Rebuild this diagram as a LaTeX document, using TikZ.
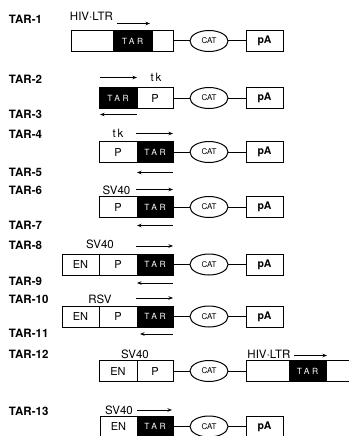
\documentclass[tikz,border=0pt]{standalone}
\usepackage{fontspec}
\setmainfont{TeX Gyre Heros}
\newfontfamily\tarfont[LetterSpace=30]{TeX Gyre Heros}
\usetikzlibrary{positioning, arrows.meta, shapes.geometric}

\begin{document}
\begin{tikzpicture}[
  x=1pt, y=-1pt,
  every node/.style={inner sep=0pt, outer sep=0pt},
  seg/.style={
    rectangle, draw=black, line width=1pt, fill=white,
    minimum width=#1, minimum height=21pt,
    font=\fontsize{11}{13}\selectfont
  },
  seg/.default=37pt,
  tarseg/.style={
    seg=#1, fill=black, text=white,
    font=\tarfont\fontsize{8.5}{10}\selectfont
  },
  tarseg/.default=37pt,
  catnode/.style={
    ellipse, draw=black, line width=1pt,
    minimum width=38pt, minimum height=21pt,
    font=\fontsize{8}{9}\selectfont
  },
  pabox/.style={
    rectangle, draw=black, line width=1pt,
    minimum width=37pt, minimum height=21pt,
    font=\fontsize{10.5}{12}\selectfont\bfseries
  },
  rowlabel/.style={anchor=west, font=\fontsize{11.5}{13}\selectfont\bfseries},
  promlabel/.style={font=\fontsize{11.5}{13}\selectfont},
  dirarrow/.style={-{Stealth[length=4.5pt, width=3.5pt]}, line width=0.9pt},
  link/.style={line width=1pt},
]
\useasboundingbox (0,0) rectangle (348,436);

% === Row labels ===
\foreach \n/\y in {1/19.5, 2/79, 3/114, 4/134, 5/172, 6/190, 7/225,
                   8/245, 9/281, 10/299, 11/333, 12/354, 13/411} {
  \node[rowlabel] (lab\n) at (9,\y) {TAR-\n};
}

% === Constructs ===
\node[seg=42pt, anchor=west] (r1a) at (71,41) {};
\node[tarseg=39pt, right=0pt of r1a] (r1b) {TAR};
\node[seg=21pt, right=0pt of r1b] (r1c) {};

\node[tarseg=38pt, anchor=west] (r2a) at (99,98) {TAR};
\node[seg=36pt, right=0pt of r2a] (r2b) {P};

\node[seg=38pt, anchor=west] (r4a) at (99,152) {P};
\node[tarseg=36pt, right=0pt of r4a] (r4b) {TAR};

\node[seg=38pt, anchor=west] (r6a) at (99,207) {P};
\node[tarseg=36pt, right=0pt of r6a] (r6b) {TAR};

\node[seg=37pt, anchor=west] (r8a) at (62,264.5) {EN};
\node[seg=38pt, right=0pt of r8a] (r8b) {P};
\node[tarseg=36pt, right=0pt of r8b] (r8c) {TAR};

\node[seg=37pt, anchor=west] (r10a) at (62,316.5) {EN};
\node[seg=38pt, right=0pt of r10a] (r10b) {P};
\node[tarseg=36pt, right=0pt of r10b] (r10c) {TAR};

\node[seg=38pt, anchor=west] (r12a) at (99,371) {EN};
\node[seg=36pt, right=0pt of r12a] (r12b) {P};

\node[seg=37pt, anchor=west] (r13a) at (100,426.5) {EN};
\node[tarseg=36pt, right=0pt of r13a] (r13b) {TAR};

% === CAT and pA ===
\foreach \e/\r in {r1c/1, r2b/2, r4b/4, r6b/6, r8c/8, r10c/10, r13b/13} {
  \node[catnode, right=17pt of \e] (cat\r) {CAT};
  \node[pabox, right=18pt of cat\r] (pa\r) {pA};
  \draw[link] (\e.east) -- (cat\r.west);
  \draw[link] (cat\r.east) -- (pa\r.west);
}

% downstream HIV-LTR of TAR-12
\node[catnode, right=17pt of r12b] (cat12) {CAT};
\node[seg=43pt, right=18pt of cat12] (r12c) {};
\node[tarseg=37pt, right=0pt of r12c] (r12d) {TAR};
\node[seg=45pt, right=0pt of r12d] (r12e) {};
\draw[link] (r12b.east) -- (cat12.west);
\draw[link] (cat12.east) -- (r12c.west);

% === Promoter names ===
\node[promlabel] (hiv1) at (91.5,16) {HIV$\cdot$LTR};
\node[promlabel] (tk2) at (156,77.5) {t\,k};
\node[promlabel] (tk4) at (118,133) {t\,k};
\node[promlabel] (sv6) at (116.5,190) {SV40};
\node[promlabel] (sv8) at (100,244) {SV40};
\node[promlabel] (rsv10) at (100,299) {RSV};
\node[promlabel] (sv12) at (135,354) {SV40};
\node[promlabel] (hiv12) at (269,354) {HIV$\cdot$LTR};
\node[promlabel] (sv13) at (119,410) {SV40};

% === Orientation arrows ===
\draw[dirarrow] ([xshift=4pt, yshift=7pt]r1b.north west) -- ([xshift=-2pt, yshift=7pt]r1b.north east);
\draw[dirarrow] ([xshift=1pt, yshift=10pt]r2a.north west) -- ([yshift=10pt]r2a.north east);
\draw[dirarrow] ([yshift=-6pt]r2a.south east) -- ([xshift=1pt, yshift=-6pt]r2a.south west);
\draw[dirarrow] ([xshift=-1pt, yshift=8pt]r4b.north west) -- ([yshift=8pt]r4b.north east);
\draw[dirarrow] ([yshift=-10pt]r4b.south east) -- ([yshift=-10pt]r4b.south west);
\draw[dirarrow] ([xshift=-1pt, yshift=7pt]r6b.north west) -- ([yshift=7pt]r6b.north east);
\draw[dirarrow] ([yshift=-8pt]r6b.south east) -- ([yshift=-8pt]r6b.south west);
\draw[dirarrow] ([xshift=-1pt, yshift=8pt]r8c.north west) -- ([yshift=8pt]r8c.north east);
\draw[dirarrow] ([yshift=-8pt]r8c.south east) -- ([yshift=-8pt]r8c.south west);
\draw[dirarrow] ([xshift=-1pt, yshift=8pt]r10c.north west) -- ([yshift=8pt]r10c.north east);
\draw[dirarrow] ([yshift=-7pt]r10c.south east) -- ([xshift=3pt, yshift=-7pt]r10c.south west);
\draw[dirarrow] ([xshift=5pt, yshift=5pt]r12d.north west) -- ([xshift=1pt, yshift=5pt]r12d.north east);
\draw[dirarrow] ([yshift=6pt]r13b.north west) -- ([xshift=-1pt, yshift=6pt]r13b.north east);

\end{tikzpicture}
\end{document}
